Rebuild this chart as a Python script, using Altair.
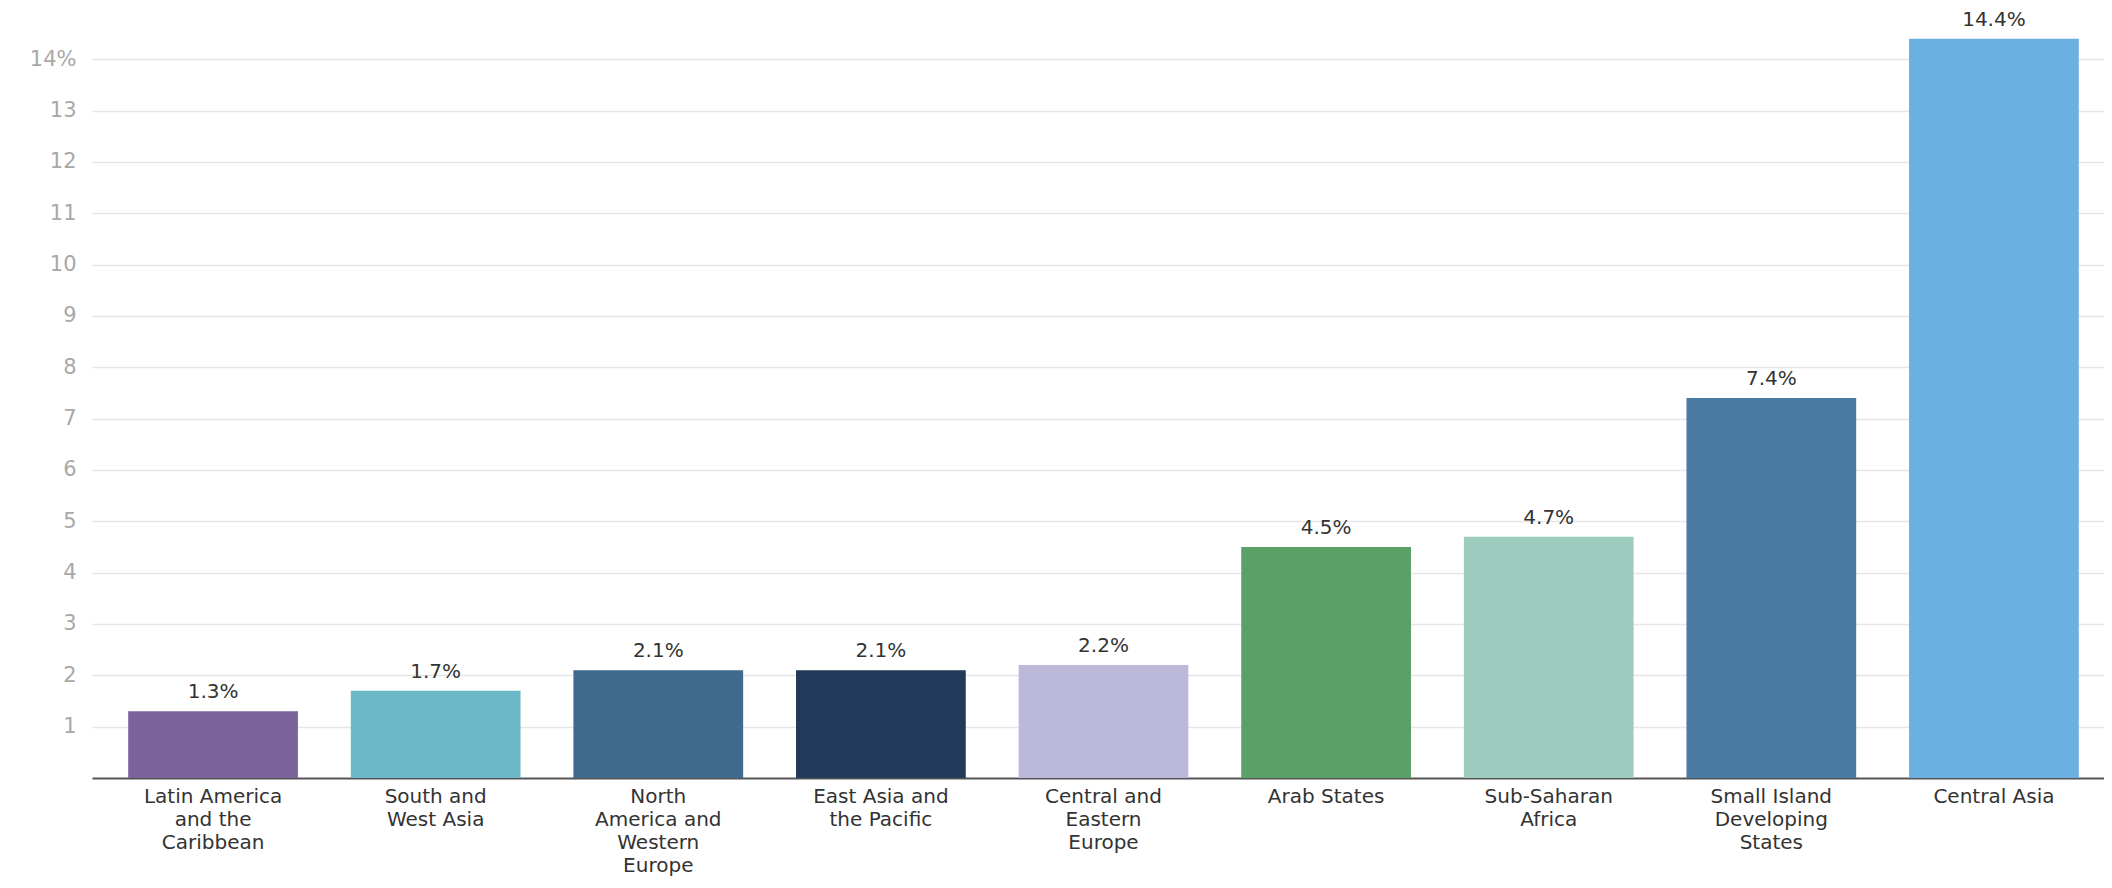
import altair as alt
import pandas as pd

regions = [
    "Latin America|and the|Caribbean",
    "South and|West Asia",
    "North|America and|Western|Europe",
    "East Asia and|the Pacific",
    "Central and|Eastern|Europe",
    "Arab States",
    "Sub-Saharan|Africa",
    "Small Island|Developing|States",
    "Central Asia",
]
values = [1.3, 1.7, 2.1, 2.1, 2.2, 4.5, 4.7, 7.4, 14.4]
colors = ["#7b639c", "#6cb8c9", "#3f6a8e", "#223a5a", "#bcb8d9",
          "#5aa067", "#9dcbbd", "#4a7ca3", "#6ab0e0"]
y_ticks = list(range(1, 15))

df = pd.DataFrame({"region": regions, "value": values})

FONT = "DejaVu Sans"

base = alt.Chart(df).encode(
    x=alt.X(
        "region:N",
        sort=None,
        title=None,
        scale=alt.Scale(paddingInner=0.2375, paddingOuter=0.1626, range=[0, 2023]),
        axis=alt.Axis(
            labelAngle=0,
            labelExpr="split(datum.label, '|')",
            labelFont=FONT,
            labelFontSize=20,
            labelColor="#333333",
            labelLineHeight=23,
            labelPadding=8,
            labelBaseline="top",
            ticks=False,
            domainColor="#555555",
            domainWidth=2,
            grid=False,
        ),
    ),
    y=alt.Y(
        "value:Q",
        title=None,
        scale=alt.Scale(domain=[0, 14.92], nice=False),
        axis=alt.Axis(
            values=y_ticks,
            labelExpr="datum.value == 14 ? '14%' : datum.label",
            labelFont=FONT,
            labelFontSize=21,
            labelColor="#a8a8a8",
            labelPadding=16,
            ticks=False,
            domain=False,
            gridColor="#e6e6e6",
            gridWidth=1.5,
        ),
    ),
)

bars = base.mark_bar().encode(
    color=alt.Color("region:N", sort=None,
                    scale=alt.Scale(domain=regions, range=colors), legend=None)
)

labels = base.transform_calculate(
    lbl="format(datum.value, '.1f') + '%'"
).mark_text(
    font=FONT, fontSize=20, color="#333333", baseline="alphabetic", dy=-13
).encode(text="lbl:N")

chart = (bars + labels).properties(
    width=2012,
    height=766,
    autosize=alt.AutoSizeParams(type="none"),
    padding={"left": 84, "top": 4, "right": 0, "bottom": 102},
).configure_view(stroke=None)

chart.save("out.html", embed_options={"renderer": "svg", "actions": False})
